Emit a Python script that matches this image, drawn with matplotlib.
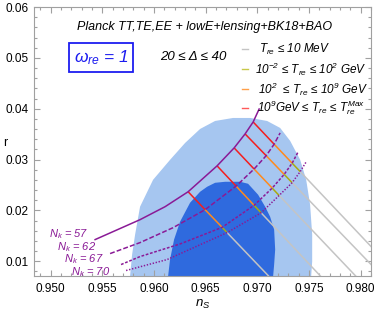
import matplotlib
matplotlib.use('Agg')
import matplotlib.pyplot as plt
from matplotlib.ticker import MultipleLocator, FormatStrFormatter

plt.rcParams['font.family'] = ['Liberation Sans', 'DejaVu Sans']
plt.rcParams['mathtext.fontset'] = 'custom'
plt.rcParams['mathtext.it'] = 'Liberation Sans:italic'
plt.rcParams['mathtext.rm'] = 'Liberation Sans:italic'
plt.rcParams['mathtext.bf'] = 'Liberation Sans:bold:italic'

# ---------------- data (n_s, r) ----------------
# Planck + BK18 + BAO contours (95% light, 68% dark)
light_ns = [0.95760, 0.95769, 0.95789, 0.95818, 0.95866, 0.95992, 0.96156, 0.96302,
            0.96447, 0.96592, 0.96766, 0.96931, 0.97095, 0.97221, 0.97318, 0.97415,
            0.97473, 0.97511, 0.97531, 0.97531, 0.97521, 0.97511]
light_r = [0.00445, 0.00700, 0.01131, 0.01524, 0.02073, 0.02602, 0.02994, 0.03327,
           0.03602, 0.03759, 0.03818, 0.03818, 0.03759, 0.03622, 0.03367, 0.02994,
           0.02602, 0.02112, 0.01524, 0.00994, 0.00700, 0.00445]
dark_ns = [0.96127, 0.96137, 0.96156, 0.96195, 0.96253, 0.96350, 0.96447, 0.96515,
           0.96592, 0.96689, 0.96834, 0.96911, 0.97008, 0.97076, 0.97124, 0.97163,
           0.97173, 0.97163, 0.97153, 0.97144]
dark_r = [0.00445, 0.00700, 0.01033, 0.01426, 0.01778, 0.02151, 0.02367, 0.02465,
          0.02543, 0.02563, 0.02563, 0.02524, 0.02308, 0.02073, 0.01876, 0.01622,
          0.01229, 0.00935, 0.00700, 0.00445]

# points where the constant-Delta lines (Delta = 20 ... 40) cross each N_k curve
cross57_ns = [0.96331, 0.96611, 0.96776, 0.96882, 0.96960]
cross57_r = [0.02367, 0.02876, 0.03229, 0.03504, 0.03739]
cross62_ns = [0.96495, 0.96795, 0.96969, 0.97086, 0.97163]
cross62_r = [0.02014, 0.02478, 0.02814, 0.03076, 0.03302]
cross67_ns = [0.96660, 0.96969, 0.97144, 0.97260, 0.97337]
cross67_r = [0.01667, 0.02100, 0.02439, 0.02708, 0.02929]
cross70_ns = [0.96708, 0.97037, 0.97211, 0.97337, 0.97415]
cross70_r = [0.01563, 0.01953, 0.02294, 0.02545, 0.02763]
# far ends of the grey (T_re <= 10 MeV) continuation
gray_end_ns = [0.97686, 0.97966, 0.98131, 0.98237, 0.98315]
gray_end_r = [-0.00516, -0.00061, 0.00327, 0.00649, 0.00829]

# remaining parts of the N_k curves (below / above the crossings)
n57_lo_ns, n57_lo_r = [0.95431, 0.95866, 0.96108], [0.01426, 0.01818, 0.02073]
n57_hi_ns, n57_hi_r = [0.97018], [0.03994]
n62_lo_ns, n62_lo_r = [0.95576, 0.95866, 0.96185], [0.01151, 0.01367, 0.01660]
n62_hi_ns, n62_hi_r = [0.97221], [0.03524]
n67_lo_ns, n67_lo_r = [0.95682, 0.95866, 0.96253], [0.00935, 0.01092, 0.01340]
n67_hi_ns, n67_hi_r = [0.97395], [0.03151]
n70_lo_ns, n70_lo_r = [0.95731, 0.96127], [0.00818, 0.01033]
n70_hi_ns, n70_hi_r = [0.97473], [0.02955]

nk_labels = ['$N_k$ = 57', '$N_k$ = 62', '$N_k$ = 67', '$N_k$ = 70']
legend_labels = ['$T_{re}$ ≤ 10 MeV',
                 '$10^{-2}$ ≤ $T_{re}$ ≤ $10^{2}$ GeV',
                 '$10^{2}$  ≤ $T_{re}$ ≤ $10^{9}$ GeV',
                 '$10^{9}$GeV ≤ $T_{re}$ ≤ $T_{re}^{Max}$']
x_ticks = [0.950, 0.955, 0.960, 0.965, 0.970, 0.975, 0.980]
y_ticks = [0.01, 0.02, 0.03, 0.04, 0.05, 0.06]

# ---------------- style ----------------
LIGHT = '#a6c6f0'
DARK = '#2f6ade'
RED = '#f41e1e'
ORANGE = '#ff8a1c'
YELLOW = '#aaaa10'
GRAY = '#c4c4c4'
PURPLE = '#8a1a96'
FRAME = '#a0a0a0'

W, H = 374, 311
fig = plt.figure(figsize=(W / 100, H / 100), dpi=100)
ax = fig.add_axes([34 / W, 1 - 276 / H, 337 / W, 269 / H])

ax.fill(light_ns, light_r, color=LIGHT, lw=0, zorder=1)
ax.fill(dark_ns, dark_r, color=DARK, lw=0, zorder=2)

lw = 1.1
for i in range(5):
    ax.plot([cross57_ns[i], cross62_ns[i]], [cross57_r[i], cross62_r[i]], color=RED, lw=lw, zorder=3,
            solid_capstyle='butt')
    ax.plot([cross62_ns[i], cross67_ns[i]], [cross62_r[i], cross67_r[i]], color=ORANGE, lw=lw, zorder=3,
            solid_capstyle='butt')
    ax.plot([cross67_ns[i], cross70_ns[i]], [cross67_r[i], cross70_r[i]], color=YELLOW, lw=lw, zorder=3,
            solid_capstyle='butt')
    ax.plot([cross70_ns[i], gray_end_ns[i]], [cross70_r[i], gray_end_r[i]], color=GRAY, lw=lw, zorder=3,
            solid_capstyle='butt')

curves = [
    (n57_lo_ns + cross57_ns + n57_hi_ns, n57_lo_r + cross57_r + n57_hi_r, '-'),
    (n62_lo_ns + cross62_ns + n62_hi_ns, n62_lo_r + cross62_r + n62_hi_r, (0, (3.2, 1.4))),
    (n67_lo_ns + cross67_ns + n67_hi_ns, n67_lo_r + cross67_r + n67_hi_r, (0, (1.8, 1.1))),
    (n70_lo_ns + cross70_ns + n70_hi_ns, n70_lo_r + cross70_r + n70_hi_r, (0, (0.9, 1.1))),
]
for xs, ys, ls in curves:
    ax.plot(xs, ys, color=PURPLE, lw=lw, ls=ls, zorder=4, solid_joinstyle='round')

ax.set_xlim(0.9484, 0.9810)
ax.set_ylim(0.0071, 0.0600)
ax.set_xticks(x_ticks)
ax.set_yticks(y_ticks)
ax.xaxis.set_major_formatter(FormatStrFormatter('%.3f'))
ax.yaxis.set_major_formatter(FormatStrFormatter('%.2f'))
ax.xaxis.set_minor_locator(MultipleLocator(0.001))
ax.yaxis.set_minor_locator(MultipleLocator(0.002))
ax.tick_params(which='both', direction='in', top=True, right=True, color=FRAME, width=0.8)
ax.tick_params(which='major', length=4, labelsize=8.5)
ax.tick_params(axis='x', which='major', pad=5)
ax.tick_params(axis='y', which='major', pad=4)
ax.tick_params(which='minor', length=2.3)
for s in ax.spines.values():
    s.set_color(FRAME)
    s.set_linewidth(0.8)


def fx(px):
    return px / W


def fy(py):
    return 1 - py / H


fig.text(fx(3), fy(143), 'r', ha='left', va='center', fontsize=9)
fig.text(fx(203), fy(304), '$n_S$', ha='center', va='center', fontsize=9.5)

fig.text(fx(204.5), fy(27), 'Planck TT,TE,EE + lowE+lensing+BK18+BAO', ha='center', va='center',
         style='italic', fontsize=9)
fig.text(fx(101), fy(57.5), r'$\omega_{re}$ = 1', ha='center', va='center', color='#1c1cf0',
         fontsize=12.5, style='italic',
         bbox=dict(boxstyle='square,pad=0.28', fc='white', ec='#1c1cf0', lw=1.3))
fig.text(fx(193.5), fy(57.5), '20 ≤ Δ ≤ 40', ha='center', va='center', style='italic', fontsize=9.5)

leg_colors = [GRAY, '#c8c84a', '#ffa04a', '#ff5a5a']
leg_y = [49, 69, 89, 108]
leg_x = [259, 255, 258, 257]
for lab, c, py, px in zip(legend_labels, leg_colors, leg_y, leg_x):
    fig.add_artist(plt.Line2D([fx(242), fx(248)], [fy(py), fy(py)], color=c, lw=1.0,
                              transform=fig.transFigure))
    fig.text(fx(px), fy(py), lab, ha='left', va='center', style='italic', fontsize=8.5)

nk_pos = [(69, 234.5), (77, 247), (83.5, 259.5), (91, 272.5)]
for lab, (px, py) in zip(nk_labels, nk_pos):
    fig.text(fx(px), fy(py), lab, ha='center', va='center', style='italic', fontsize=8,
             color=PURPLE)

fig.savefig('out.png', dpi=100)
